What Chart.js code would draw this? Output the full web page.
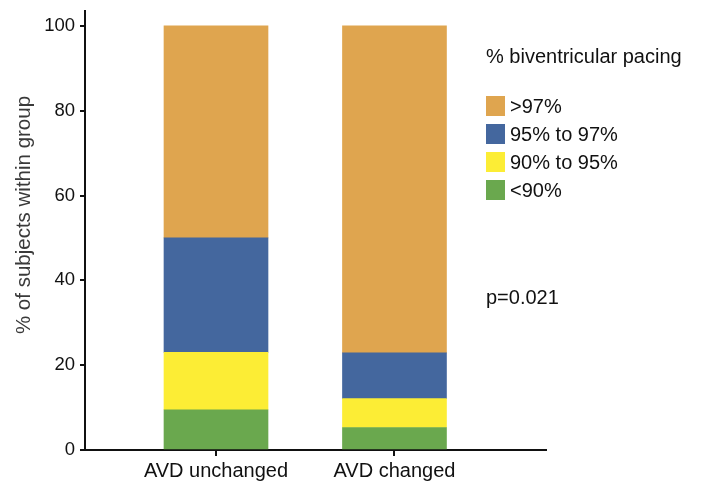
<!DOCTYPE html>
<html>
<head>
<meta charset="utf-8">
<script src="https://cdn.jsdelivr.net/npm/chart.js@4.4.1/dist/chart.umd.min.js"></script>
<style>
  html, body { margin: 0; padding: 0; background: #fff; }
  #wrap { width: 707px; height: 490px; }
</style>
</head>
<body>
<div id="wrap"><canvas id="c" width="707" height="490"></canvas></div>
<script>
// Groups along the x axis
const groups = ['AVD unchanged', 'AVD changed'];

// Share of subjects (%) in each pacing band, per group
const below90   = [9.5, 5.3];
const from90to95 = [13.5, 6.8];
const from95to97 = [27.0, 10.8];
const above97   = [50.0, 77.1];

// Band names as shown in the legend
const bandNames = ['<90%', '90% to 95%', '95% to 97%', '>97%'];

const yTicks = [0, 20, 40, 60, 80, 100];
const legendTitle = '% biventricular pacing';
const pValueText = 'p=0.021';
const yTitleText = '% of subjects within group';

const colors = ['#6aa84e', '#fced35', '#44679e', '#dfa54f'];
const seriesValues = [below90, from90to95, from95to97, above97];

const datasets = seriesValues.map((vals, i) => ({
  label: bandNames[i],
  data: vals.map((v, g) => ({ x: g, y: v })),
  backgroundColor: colors[i],
  borderWidth: 0,
  barThickness: 104
}));

const FONT = '"Liberation Sans", Arial, sans-serif';

// Legend block and p-value note on the right
const sideNotes = {
  id: 'sideNotes',
  afterDraw(chart) {
    const ctx = chart.ctx;
    ctx.save();
    ctx.fillStyle = '#111';
    ctx.font = '20px ' + FONT;
    ctx.textBaseline = 'middle';
    ctx.textAlign = 'left';
    ctx.fillText(legendTitle, 486, 57);
    const ds = chart.data.datasets.slice().reverse();
    ds.forEach((d, i) => {
      const y = 96 + i * 28;
      ctx.fillStyle = d.backgroundColor;
      ctx.fillRect(486, y, 19, 20);
      ctx.fillStyle = '#111';
      ctx.fillText(d.label, 510, y + 11);
    });
    ctx.fillText(pValueText, 486, 298);
    ctx.restore();
  }
};

// Rotated y-axis title
const yTitle = {
  id: 'yTitle',
  afterDraw(chart) {
    const ctx = chart.ctx;
    ctx.save();
    ctx.translate(24, 215);
    ctx.rotate(-Math.PI / 2);
    ctx.fillStyle = '#3a3a3a';
    ctx.font = '20.5px ' + FONT;
    ctx.textAlign = 'center';
    ctx.textBaseline = 'middle';
    ctx.fillText(yTitleText, 0, 0);
    ctx.restore();
  }
};

new Chart(document.getElementById('c'), {
  type: 'bar',
  data: { datasets },
  plugins: [sideNotes, yTitle],
  options: {
    responsive: false,
    animation: false,
    layout: { padding: { top: 11, right: 161, left: 0, bottom: 0 } },
    plugins: { legend: { display: false }, tooltip: { enabled: false } },
    scales: {
      x: {
        type: 'linear',
        stacked: true,
        offset: false,
        min: -0.734,
        max: 1.849,
        afterBuildTicks(scale) {
          scale.ticks = groups.map((g, i) => ({ value: i }));
        },
        afterFit(scale) { scale.height = 40; },
        ticks: {
          callback: (v) => groups[v],
          color: '#111',
          font: { family: FONT, size: 20 },
          padding: 3,
          maxRotation: 0,
          autoSkip: false
        },
        grid: {
          offset: false,
          drawOnChartArea: false,
          drawTicks: true,
          tickLength: 6,
          color: '#111',
          lineWidth: 2
        },
        border: { display: true, color: '#111', width: 2 }
      },
      y: {
        stacked: true,
        min: 0,
        max: 103.5,
        afterBuildTicks(scale) {
          scale.ticks = yTicks.map(v => ({ value: v }));
        },
        afterFit(scale) {
          scale.width = 85;
          scale.paddingTop = 0;
          scale.paddingBottom = 0;
        },
        ticks: {
          color: '#111',
          font: { family: FONT, size: 18.5 },
          padding: 5
        },
        grid: {
          drawOnChartArea: false,
          drawTicks: true,
          tickLength: 5,
          color: '#111',
          lineWidth: 2
        },
        border: { display: true, color: '#111', width: 2 }
      }
    }
  }
});
</script>
</body>
</html>
